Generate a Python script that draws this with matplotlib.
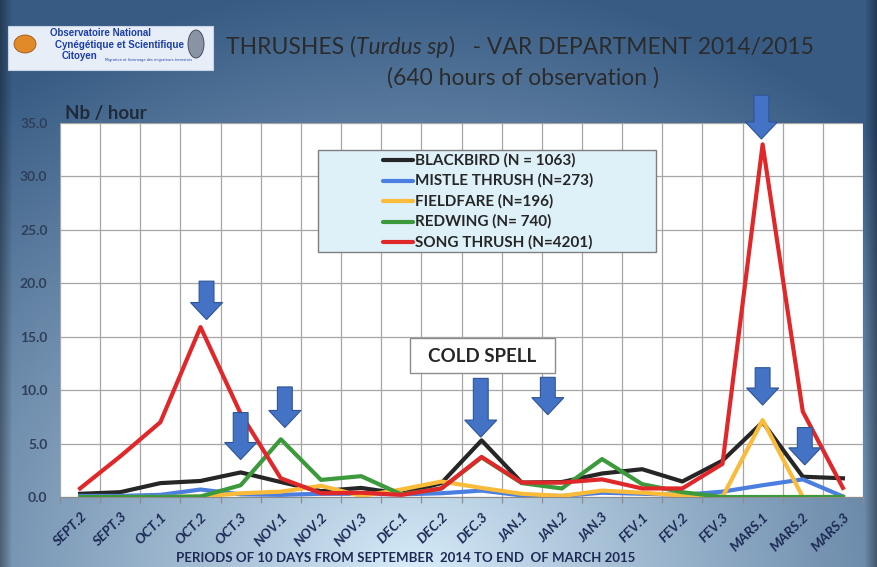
import numpy as np
import matplotlib
matplotlib.use("Agg")
import matplotlib.pyplot as plt
import matplotlib.patches as mpatches
from matplotlib.transforms import ScaledTranslation

# -------------------------------------------------------------
# Data (Nb / hour per 10-day period)
# -------------------------------------------------------------
periods = ["SEPT.2", "SEPT.3", "OCT.1", "OCT.2", "OCT.3", "NOV.1", "NOV.2",
           "NOV.3", "DEC.1", "DEC.2", "DEC.3", "JAN.1", "JAN.2", "JAN.3",
           "FEV.1", "FEV.2", "FEV.3", "MARS.1", "MARS.2", "MARS.3"]

blackbird = [0.3, 0.45, 1.3, 1.5, 2.3, 1.4, 0.55, 0.85, 0.3, 1.3,
             5.3, 1.35, 1.4, 2.2, 2.6, 1.45, 3.4, 7.0, 1.9, 1.75]
mistle = [0.1, 0.1, 0.2, 0.7, 0.25, 0.2, 0.3, 0.3, 0.25, 0.35,
          0.6, 0.15, 0.1, 0.4, 0.3, 0.2, 0.5, 1.1, 1.65, 0.05]
fieldfare = [0.0, 0.0, 0.0, 0.05, 0.35, 0.5, 1.05, 0.1, 0.7, 1.45,
             0.85, 0.3, 0.1, 0.6, 0.4, 0.15, 0.0, 7.2, 0.0, 0.0]
redwing = [0.0, 0.0, 0.0, 0.05, 1.1, 5.4, 1.6, 1.95, 0.25, 0.8,
           3.7, 1.3, 0.8, 3.55, 1.2, 0.45, 0.0, 0.0, 0.0, 0.0]
song = [0.8, 3.8, 7.0, 15.9, 7.8, 1.75, 0.35, 0.4, 0.2, 0.8,
        3.75, 1.35, 1.35, 1.65, 0.8, 0.8, 3.1, 33.0, 8.0, 0.85]

series = [blackbird, mistle, fieldfare, redwing, song]
series_labels = ["BLACKBIRD (N = 1063)", "MISTLE THRUSH (N=273)",
                 "FIELDFARE (N=196)", "REDWING (N= 740)", "SONG THRUSH (N=4201)"]
series_colors = ["#262626", "#4a7fe0", "#fbbb3a", "#3c9a3c", "#e0282a"]

# down arrows: (category position, top value, bottom value)
arrows = [(3.15, 20.2, 16.6), (4.0, 7.9, 3.5), (5.1, 10.3, 6.5),
          (9.98, 11.1, 5.6), (11.65, 11.2, 7.7), (16.97, 37.6, 33.5),
          (17.0, 12.1, 8.6), (18.05, 6.5, 3.0)]

FONT = "Lato"
W, H = 877, 567


def fx(px):
    return px / W


def fy(py):
    return 1 - py / H


fig = plt.figure(figsize=(W / 100, H / 100), dpi=100)

# -------------------------------------------------------------
# Background gradient
# -------------------------------------------------------------
bg = fig.add_axes([0, 0, 1, 1], zorder=-10)
yy, xx = np.mgrid[0:H, 0:W]
t = np.sqrt(((xx - 0.47 * W) / (0.8 * W)) ** 2 + ((yy - 1.02 * H) / (1.05 * H)) ** 2)
t = np.clip(t, 0, 1) ** 0.9
light = np.array([0.86, 0.94, 0.99])
dark = np.array([0.22, 0.36, 0.52])
img = light * (1 - t[..., None]) + dark * t[..., None]
edge = np.clip(1 - np.minimum(xx, W - 1 - xx) / 12, 0, 1)
img *= (1 - 0.35 * edge[..., None])
bg.imshow(img, aspect="auto", extent=[0, 1, 0, 1], origin="upper")
bg.axis("off")

# -------------------------------------------------------------
# Main plot
# -------------------------------------------------------------
L, R, T, B = 60, 863, 123, 497
ax = fig.add_axes([fx(L), fy(B), (R - L) / W, (B - T) / H])
ax.set_facecolor("white")

x = np.arange(len(periods))
for vals, col in zip(series, series_colors):
    ax.plot(x, vals, color=col, lw=3, zorder=3)

ax.set_xlim(-0.5, len(periods) - 0.5)
ax.set_ylim(0, 35)
ax.set_yticks(np.arange(0, 36, 5))
ax.set_yticklabels([f"{v:.1f}" for v in np.arange(0, 36, 5)],
                   fontsize=10, fontweight="bold", color="#2f3f5a", family=FONT)
ax.set_xticks(x)
ax.set_xticks(np.arange(-0.5, len(periods), 1), minor=True)
ax.set_xticklabels(periods, rotation=45, ha="right", va="top", rotation_mode="anchor",
                   fontsize=10, fontweight="bold", fontstyle="italic",
                   color="#1c2a55", family=FONT)
for lab in ax.get_xticklabels():
    lab.set_transform(lab.get_transform() + ScaledTranslation(7 / 72, 0, fig.dpi_scale_trans))
ax.tick_params(axis="both", which="major", length=0)
ax.tick_params(axis="x", which="minor", length=4, color="#8c8c8c", width=0.9)
ax.tick_params(axis="y", pad=9)
ax.tick_params(axis="x", which="major", pad=10)
ax.grid(True, axis="x", which="minor", color="#a6a6a6", lw=0.9)
ax.grid(True, axis="y", which="major", color="#a6a6a6", lw=0.9)
ax.set_axisbelow(True)
for s in ax.spines.values():
    s.set_visible(False)
ax.spines["bottom"].set_visible(True)
ax.spines["bottom"].set_color("#8c8c8c")

# arrows
for ax_x, top, bot in arrows:
    arr = mpatches.FancyArrow(ax_x, top, 0, bot - top, width=0.37, head_width=0.8,
                              head_length=1.6, length_includes_head=True,
                              fc="#4472c4", ec="#2f5597", lw=0.8,
                              clip_on=False, zorder=7)
    ax.add_patch(arr)


def axx(px):
    return (px - L) / (R - L)


def axy(py):
    return (B - py) / (B - T)


# legend box
ax.add_patch(mpatches.Rectangle((axx(318), axy(252)), axx(656) - axx(318), axy(150) - axy(252),
                                transform=ax.transAxes, fc="#def0f8", ec="#7f7f7f",
                                lw=1, zorder=6))
for i, (lab, col) in enumerate(zip(series_labels, series_colors)):
    yrow = axy(160 + i * 20.5)
    ax.plot([axx(383), axx(413)], [yrow, yrow], color=col, lw=3,
            transform=ax.transAxes, zorder=7, solid_capstyle="round")
    ax.text(axx(415), yrow, lab, transform=ax.transAxes, ha="left", va="center",
            fontsize=11, fontweight="bold", color="#262626", family=FONT, zorder=7)

# cold spell box
ax.add_patch(mpatches.Rectangle((axx(410), axy(373)), axx(555) - axx(410), axy(338) - axy(373),
                                transform=ax.transAxes, fc="white", ec="#8c8c8c",
                                lw=1, zorder=6))
ax.text(axx(482.5), axy(356), "COLD SPELL", transform=ax.transAxes, ha="center",
        va="center", fontsize=13.5, fontweight="bold", color="#262626",
        family=FONT, zorder=7)

# -------------------------------------------------------------
# Titles and labels
# -------------------------------------------------------------
renderer = fig.canvas.get_renderer()
pieces = [("THRUSHES (", "normal"), ("Turdus sp", "italic"),
          (")   - VAR DEPARTMENT 2014/2015", "normal")]
texts = []
for s, style in pieces:
    tt = fig.text(0, fy(47), s, fontsize=16.5, fontstyle=style, color="#2b2b2b",
                  family=FONT, ha="left", va="center")
    texts.append(tt)
widths = [tt.get_window_extent(renderer).width for tt in texts]
xcur = 520 - sum(widths) / 2
for tt, w in zip(texts, widths):
    tt.set_x(fx(xcur))
    xcur += w

fig.text(fx(523), fy(78), "(640 hours of observation )", fontsize=16.5,
         color="#2b2b2b", family=FONT, ha="center", va="center")
fig.text(fx(65), fy(114), "Nb / hour", fontsize=13.5, fontweight="bold",
         color="#1f2a3a", family=FONT, ha="left", va="center")
fig.text(fx(406), fy(558), "PERIODS OF 10 DAYS FROM SEPTEMBER  2014 TO END  OF MARCH 2015",
         fontsize=9.5, fontweight="bold", color="#1c2a55", family=FONT,
         ha="center", va="center")

# -------------------------------------------------------------
# Logo block
# -------------------------------------------------------------
LOGO_FONT = ["Liberation Sans Narrow", "Liberation Sans"]
fig.patches.append(mpatches.Rectangle((fx(8), fy(70)), fx(213) - fx(8), fy(26) - fy(70),
                                      transform=fig.transFigure, fc="#e8eef8",
                                      ec="#c8d4e6", lw=0.8, zorder=1))
fig.patches.append(mpatches.Ellipse((fx(25), fy(44)), 22 / W, 18 / H,
                                    transform=fig.transFigure, fc="#e08a2a",
                                    ec="#a0561a", lw=0.6, zorder=2))
fig.patches.append(mpatches.Ellipse((fx(196), fy(44)), 16 / W, 28 / H,
                                    transform=fig.transFigure, fc="#8a93a3",
                                    ec="#3a4050", lw=0.6, zorder=2))
fig.text(fx(50), fy(33), "Observatoire National", fontsize=7, fontweight="bold",
         color="#1b3ea8", family=LOGO_FONT, ha="left", va="center", zorder=3)
fig.text(fx(55), fy(45), "Cynégétique et Scientifique", fontsize=7, fontweight="bold",
         color="#1b3ea8", family=LOGO_FONT, ha="left", va="center", zorder=3)
fig.text(fx(62), fy(56), "Citoyen", fontsize=7, fontweight="bold",
         color="#1b3ea8", family=LOGO_FONT, ha="left", va="center", zorder=3)
fig.text(fx(105), fy(60), "Migration et hivernage des migrateurs terrestres", fontsize=2.5,
         color="#1b3ea8", family="DejaVu Sans", ha="left", va="center", zorder=3)

fig.savefig("out.png", dpi=100)
